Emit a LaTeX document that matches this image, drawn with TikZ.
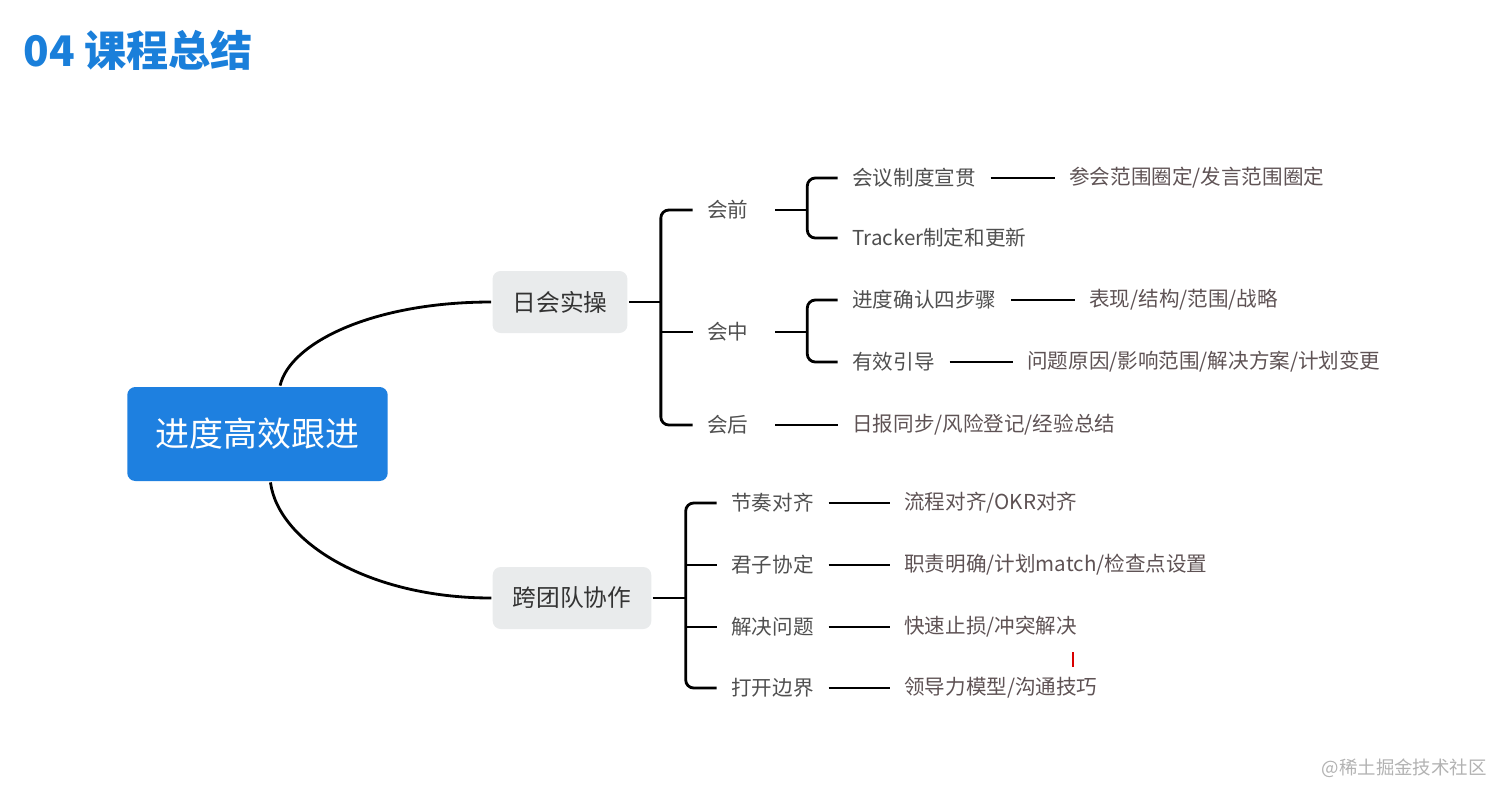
\documentclass[tikz,border=0pt]{standalone}
\usepackage{fontspec}
\setmainfont{Noto Sans CJK SC}
\usetikzlibrary{calc}
\definecolor{mapblue}{HTML}{1E80E0}
\definecolor{titleblue}{HTML}{1A7FDA}
\definecolor{boxgray}{HTML}{E9EBEC}
\definecolor{leafgray}{HTML}{5E5254}
\definecolor{midgray}{HTML}{4F4F4F}

\begin{document}
\begin{tikzpicture}[x=0.02cm,y=-0.02cm,line width=1.6pt,
  rootbox/.style={fill=mapblue,rounded corners=0.16cm,text=white,font=\fontsize{19.3}{22}\selectfont,inner xsep=0.57cm,minimum height=1.88cm},
  topicbox/.style={fill=boxgray,rounded corners=0.16cm,text=black!80,font=\fontsize{13.5}{16}\selectfont,inner xsep=0.4cm,minimum height=1.24cm},
  stagenode/.style={anchor=west,text=midgray,font=\fontsize{11.7}{14}\selectfont,inner xsep=0.27cm,text width=1.06cm},
  subnode/.style={anchor=west,text=midgray,font=\fontsize{11.7}{14}\selectfont,inner xsep=0.27cm},
  leafnode/.style={anchor=west,text=leafgray,font=\fontsize{11.7}{14}\selectfont,inner xsep=0.27cm}]
  \useasboundingbox (0,0) rectangle (1500,785);
  \node[anchor=west,inner sep=0,text=titleblue,font=\fontsize{24}{27}\selectfont\bfseries] (title) at (22,50) {04 课程总结};
  \node[rootbox] (root) at (257.5,434) {进度高效跟进};
  \node[topicbox] (rh) at (560,302) {日会实操};
  \node[topicbox] (kt) at (572,598) {跨团队协作};
  % 日会实操
  \node[stagenode] (hq) at (692.5,210) {会前};
  \node[stagenode] (hz) at (692.5,332) {会中};
  \node[stagenode] (hh) at (692.5,425) {会后};
  \node[subnode] (zd) at (837.5,178) {会议制度宣贯};
  \node[subnode] (tr) at (837.5,238) {Tracker制定和更新};
  \node[subnode] (qr) at (837.5,300) {进度确认四步骤};
  \node[subnode] (yx) at (837.5,362) {有效引导};
  \node[leafnode] (rb) at (837.5,425) {日报同步/风险登记/经验总结};
  \node[leafnode] (fw) at (1054.5,178) {参会范围圈定/发言范围圈定};
  \node[leafnode] (bx) at (1074.5,300) {表现/结构/范围/战略};
  \node[leafnode] (wt) at (1012.5,362) {问题原因/影响范围/解决方案/计划变更};
  % 跨团队协作
  \node[subnode] (jz) at (716.5,503) {节奏对齐};
  \node[subnode] (jx) at (716.5,565) {君子协定};
  \node[subnode] (jj) at (716.5,627) {解决问题};
  \node[subnode] (dk) at (716.5,688) {打开边界};
  \node[leafnode] (lc) at (889.5,503) {流程对齐/OKR对齐};
  \node[leafnode] (zz) at (889.5,565) {职责明确/计划match/检查点设置};
  \node[leafnode] (ks) at (889.5,627) {快速止损/冲突解决};
  \node[leafnode] (ld) at (889.5,688) {领导力模型/沟通技巧};
  \node[anchor=east,text=black!30,font=\fontsize{10.5}{12}\selectfont] (wm) at (1494,768) {@稀土掘金技术社区};
  % connectors
  \draw (root.65) .. controls ($(root.65)+(10,-43)$) and ($(rh.west)+(-118,0)$) .. (rh.west);
  \draw (root.-75) .. controls ($(root.-75)+(8,60)$) and ($(kt.west)+(-122,0)$) .. (kt.west);
  \coordinate (s1) at ($(rh.east)+(32,0)$);
  \draw (rh.east) -- (s1);
  \draw[rounded corners=0.16cm] (hq.west) -| (s1) |- (hh.west);
  \draw (s1 |- hz.west) -- (hz.west);
  \coordinate (s2) at ($(hq.east)+(32,0)$);
  \draw (hq.east) -- (s2);
  \draw[rounded corners=0.16cm] (zd.west) -| (s2) |- (tr.west);
  \coordinate (s3) at ($(hz.east)+(32,0)$);
  \draw (hz.east) -- (s3);
  \draw[rounded corners=0.16cm] (qr.west) -| (s3) |- (yx.west);
  \draw (hh.east) -- (rb.west);
  \draw (zd.east) -- (fw.west);
  \draw (qr.east) -- (bx.west);
  \draw (yx.east) -- (wt.west);
  \coordinate (s4) at ($(kt.east)+(33,0)$);
  \draw (kt.east) -- (s4);
  \draw[rounded corners=0.16cm] (jz.west) -| (s4) |- (dk.west);
  \draw (s4 |- jx.west) -- (jx.west);
  \draw (s4 |- jj.west) -- (jj.west);
  \draw (jz.east) -- (lc.west);
  \draw (jx.east) -- (zz.west);
  \draw (jj.east) -- (ks.west);
  \draw (dk.east) -- (ld.west);
  \draw[red!85!black,line width=1.5pt] (1073,652) -- (1073,667);
\end{tikzpicture}
\end{document}
